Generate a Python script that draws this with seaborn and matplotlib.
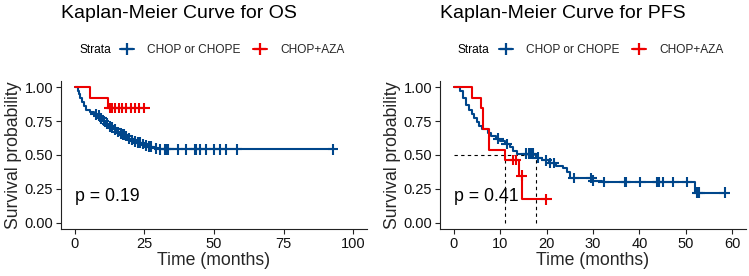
import numpy as np
import pandas as pd
import matplotlib
matplotlib.use("Agg")
import matplotlib.pyplot as plt
from matplotlib.lines import Line2D
import seaborn as sns

sns.set_theme(style="ticks")
plt.rcParams['font.family'] = ['Liberation Sans', 'DejaVu Sans']

strata = ["CHOP or CHOPE", "CHOP+AZA"]
colors = ["#00468B", "#ED0000"]

# ---- OS ----
os_blue_t = [0, 1.0, 1.5, 2.0, 2.7, 3.3, 4.0, 5.5, 7.0, 8.0, 9.0, 10.0, 11.0, 12.0, 13.0,
             14.0, 15.0, 16.0, 17.0, 18.0, 19.0, 20.0, 21.0, 22.0, 24.0, 25.0, 26.0, 28.0, 30.0, 93.0]
os_blue_s = [1.0, 0.97, 0.95, 0.92, 0.89, 0.86, 0.83, 0.82, 0.80, 0.79, 0.77, 0.75, 0.73, 0.71, 0.70,
             0.69, 0.67, 0.66, 0.65, 0.64, 0.62, 0.61, 0.60, 0.59, 0.58, 0.57, 0.56, 0.55, 0.54, 0.54]
os_blue_cens = [7.5, 8.5, 9.5, 10.5, 11.5, 12.5, 13.5, 14.5, 15.5, 16.5, 17.2, 17.8, 18.5, 19.5,
                20.5, 21.5, 22.5, 23.5, 24.5, 25.5, 26.5, 27.5, 29.0, 30.5, 32.5, 33.0, 33.6, 37.0,
                40.0, 43.0, 43.6, 44.8, 47.0, 50.0, 52.3, 54.4, 58.3, 92.8]
os_red_t = [0, 5.5, 12.0, 25.0]
os_red_s = [1.0, 0.923, 0.846, 0.846]
os_red_cens = [12.5, 13.0, 13.5, 14.5, 16.0, 17.0, 18.5, 20.0, 21.5, 23.0, 25.0]
os_pval = "p = 0.19"

# ---- PFS ----
pfs_blue_t = [0, 1.3, 2.0, 2.7, 3.3, 3.8, 4.4, 4.9, 5.5, 6.0, 7.4, 8.0, 9.0, 10.0, 11.0, 12.0,
              12.8, 13.5, 17.8, 19.0, 20.5, 22.0, 23.6, 24.3, 25.1, 29.8, 32.0, 52.1, 58.4]
pfs_blue_s = [1.0, 0.97, 0.92, 0.87, 0.83, 0.80, 0.77, 0.74, 0.71, 0.69, 0.66, 0.64, 0.62, 0.60,
              0.58, 0.56, 0.53, 0.51, 0.48, 0.46, 0.44, 0.42, 0.40, 0.37, 0.33, 0.31, 0.30, 0.22, 0.22]
pfs_blue_cens = [9.6, 11.4, 15.6, 16.1, 16.6, 17.1, 18.1, 19.9, 20.7, 21.5, 25.8, 29.6, 30.0,
                 32.3, 36.8, 37.1, 40.2, 43.8, 44.2, 45.1, 47.3, 50.3, 52.5, 52.9, 58.4]
pfs_red_t = [0, 3.8, 5.8, 6.3, 7.6, 11.0, 14.1, 14.75, 19.9]
pfs_red_s = [1.0, 0.923, 0.846, 0.692, 0.538, 0.462, 0.346, 0.173, 0.173]
pfs_red_cens = [12.8, 13.3, 14.6, 19.9]
pfs_medians = [11.0, 17.8]
pfs_pval = "p = 0.41"


def step_value(ts, ss, t):
    idx = np.searchsorted(ts, t, side="right") - 1
    return ss[idx]


def make_frames(bt, bs, bc, rt, rs, rc):
    curve = pd.concat([
        pd.DataFrame({"time": bt, "surv": bs, "strata": strata[0]}),
        pd.DataFrame({"time": rt, "surv": rs, "strata": strata[1]}),
    ], ignore_index=True)
    cens = pd.concat([
        pd.DataFrame({"time": bc, "surv": [step_value(bt, bs, c) for c in bc], "strata": strata[0]}),
        pd.DataFrame({"time": rc, "surv": [step_value(rt, rs, c) for c in rc], "strata": strata[1]}),
    ], ignore_index=True)
    return curve, cens


W, H = 749, 276
fig = plt.figure(figsize=(W / 100, H / 100), dpi=100)
bottom = (H - 229.3) / H
height = (229.3 - 80.5) / H
ax1 = fig.add_axes([61 / W, bottom, 306 / W, height])
ax2 = fig.add_axes([440 / W, bottom, 306 / W, height])

pal = dict(zip(strata, colors))


def draw(ax, curve, cens, xlim, xticks, pval):
    sns.lineplot(data=curve, x="time", y="surv", hue="strata", palette=pal, estimator=None,
                 drawstyle="steps-post", linewidth=1.5, legend=False, ax=ax)
    sns.scatterplot(data=cens, x="time", y="surv", hue="strata", palette=pal, marker="+",
                    s=60, linewidth=1.5, legend=False, ax=ax, zorder=3)
    ax.set_xlim(*xlim)
    ax.set_ylim(-0.05, 1.05)
    ax.set_xticks(xticks)
    ax.set_yticks([0, 0.25, 0.5, 0.75, 1.0])
    ax.set_yticklabels(["0.00", "0.25", "0.50", "0.75", "1.00"])
    ax.set_xlabel("Time (months)", fontsize=12.7, labelpad=1)
    ax.set_ylabel("Survival probability", fontsize=12.7, labelpad=2)
    ax.tick_params(labelsize=10.5, length=3.5, width=0.8, colors="#222222", labelcolor="#111111", pad=2)
    for sp in ["top", "right"]:
        ax.spines[sp].set_visible(False)
    for sp in ["left", "bottom"]:
        ax.spines[sp].set_linewidth(0.8)
        ax.spines[sp].set_color("#222222")
    ax.text(0, 0.19, pval, fontsize=12.8, va="center", ha="left", color="black")


c1, k1 = make_frames(os_blue_t, os_blue_s, os_blue_cens, os_red_t, os_red_s, os_red_cens)
draw(ax1, c1, k1, (-5, 105), [0, 25, 50, 75, 100], os_pval)

c2, k2 = make_frames(pfs_blue_t, pfs_blue_s, pfs_blue_cens, pfs_red_t, pfs_red_s, pfs_red_cens)
# median lines
ax2.plot([0, max(pfs_medians)], [0.5, 0.5], ls=(0, (3, 3)), color="black", lw=0.8, zorder=1)
for m in pfs_medians:
    ax2.plot([m, m], [0, 0.5], ls=(0, (3, 3)), color="black", lw=0.8, zorder=1)
draw(ax2, c2, k2, (-3, 63), [0, 10, 20, 30, 40, 50, 60], pfs_pval)

# titles and legends
for x0, title in [(61, "Kaplan-Meier Curve for OS"), (440, "Kaplan-Meier Curve for PFS")]:
    fig.text(x0 / W, 1 - 14 / H, title, fontsize=14, va="center", ha="left", color="black")

handles = [Line2D([0], [0], color=c, lw=1.5, marker="+", markersize=8, mew=1.6) for c in colors]
for sx, lx in [(79, 120), (457, 499)]:
    fig.text(sx / W, 1 - 50 / H, "Strata", fontsize=8.6, va="center", ha="left", color="black")
    fig.legend(handles, strata, loc="center left", bbox_to_anchor=(lx / W, 1 - 50 / H),
               ncol=2, frameon=False, fontsize=8.6, handlelength=1.2, handletextpad=1.1,
               columnspacing=1.0, borderpad=0, borderaxespad=0)

fig.savefig("out.png", dpi=100)
